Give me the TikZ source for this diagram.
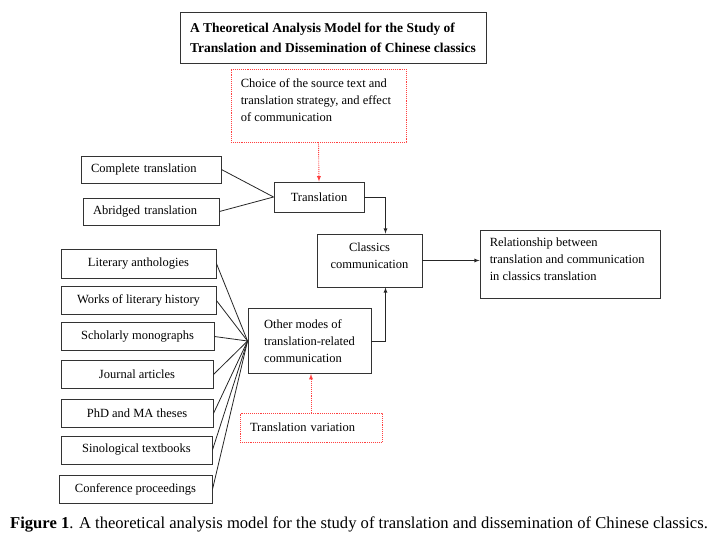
\documentclass[tikz,border=0pt]{standalone}
\usepackage{fontspec}
\setmainfont{Liberation Serif}
\usetikzlibrary{arrows,calc}

\begin{document}
\begin{tikzpicture}[x=1pt,y=-1pt,
  font=\fontsize{12.5}{17}\selectfont,
  box/.style={draw=black!80, line width=0.9pt, inner sep=0pt},
  padbox/.style={box, inner xsep=10pt, align=left},
  redbox/.style={draw=red!75, densely dotted, line width=0.9pt, inner sep=0pt},
  link/.style={draw=black!85, line width=0.8pt},
  redlink/.style={draw=red!75, densely dotted, line width=0.9pt, -latex}
]
\useasboundingbox (0,0) rectangle (720,544);

% title
\node[box, minimum width=306, minimum height=51, align=left,
  font=\fontsize{13.5}{20}\selectfont\bfseries] (title) at (333,37.5)
  {A Theoretical Analysis Model for the Study of\\Translation and Dissemination of Chinese classics};

% translation branch
\node[redbox, minimum width=175, minimum height=73] (choice) at (318.5,105.5) {};
\node[anchor=north west, align=left, inner sep=0pt] (choicetext) at ($(choice.north west)+(10,10)$)
  {Choice of the source text and\\translation strategy, and effect\\of communication};
\node[padbox, text width=120, minimum height=27] (complete) at (151,169.5) {Complete translation};
\node[padbox, text width=116, minimum height=27] (abridged) at (151,211.5) {Abridged translation};
\node[box, minimum width=90, minimum height=30] (translation) at (319,197) {Translation};

% centre and result
\node[box, minimum width=105, minimum height=53] (classics) at (369.5,260.5) {};
\node[anchor=north, align=center, inner sep=0pt] (classicstext) at ($(classics.north)+(0,9)$)
  {Classics\\communication};
\node[box, minimum width=180, minimum height=68] (relation) at (570,264) {};
\node[anchor=north west, align=left, inner sep=0pt] (relationtext) at ($(relation.north west)+(10,8)$)
  {Relationship between\\translation and communication\\in classics translation};

% other modes branch
\node[box, minimum width=123, minimum height=65, align=left] (others) at (309.5,341)
  {Other modes of\\translation-related\\communication};
\node[redbox, inner xsep=10pt, text width=122, align=left, minimum height=29] (variation) at (311,427.5)
  {Translation variation};

\node[box, minimum width=155, minimum height=29] (anth) at (138.5,263.5) {Literary anthologies};
\node[box, minimum width=155, minimum height=28] (hist) at (138.5,300.5) {Works of literary history};
\node[box, minimum width=153, minimum height=28] (mono) at (137.5,336.5) {Scholarly monographs};
\node[box, minimum width=152, minimum height=28] (jour) at (137,374.5) {Journal articles};
\node[box, minimum width=152, minimum height=28] (thes) at (137,413.5) {PhD and MA theses};
\node[box, minimum width=151, minimum height=28] (text) at (136.5,450) {Sinological textbooks};
\node[box, minimum width=153, minimum height=28] (conf) at (135.5,489.5) {Conference proceedings};

% connectors
\draw[link] (complete.east) -- (translation.west);
\draw[link] (abridged.east) -- (translation.west);
\draw[redlink] (choice.south) -- (translation.north);
\draw[link,-latex] (translation.east) -| ($(classics.north)+(16,0)$);
\draw[link,-latex] (others.east) -| ($(classics.south)+(16,0)$);
\draw[link,-latex] (classics.east) -- (relation.west |- classics.east);
\draw[redlink] (variation.north) -- (variation.north |- others.south);

\draw[link] (anth.east) -- (others.west);
\draw[link] (hist.east) -- (others.west);
\draw[link] (mono.east) -- (others.west);
\draw[link] (jour.east) -- (others.west);
\draw[link] (thes.east) -- (others.west);
\draw[link] (text.east) -- (others.west);
\draw[link] (conf.east) -- (others.west);

% caption
\node[font=\fontsize{16.6}{19}\selectfont] (caption) at (359,524)
  {\textbf{Figure 1}. A theoretical analysis model for the study of translation and dissemination of Chinese classics.};
\end{tikzpicture}
\end{document}
